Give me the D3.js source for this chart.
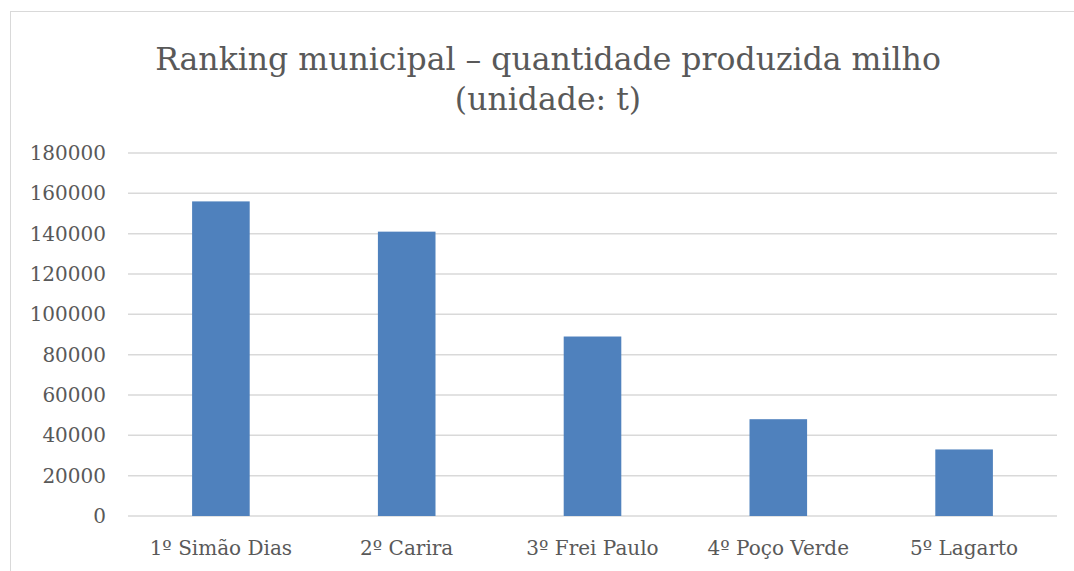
<!DOCTYPE html>
<html>
<head>
<meta charset="utf-8">
<script src="https://cdn.jsdelivr.net/npm/d3@7"></script>
<style>
  body { margin: 0; background: #fff; }
  text { font-family: "DejaVu Serif", "Liberation Serif", serif; fill: #595959; }
</style>
</head>
<body>
<div id="chart"></div>
<script>
// data
const categories = ["1º Simão Dias", "2º Carira", "3º Frei Paulo", "4º Poço Verde", "5º Lagarto"];
const values = [156000, 141000, 89000, 48000, 33000];
const yTicks = [0, 20000, 40000, 60000, 80000, 100000, 120000, 140000, 160000, 180000];
const titleLines = ["Ranking municipal – quantidade produzida milho", "(unidade: t)"];

const width = 1074, height = 571;
const margin = {top: 153, right: 17, bottom: 55, left: 128};

const svg = d3.select("#chart").append("svg")
    .attr("width", width)
    .attr("height", height);

// chart border
svg.append("rect")
    .attr("x", 10.5).attr("y", 11.5)
    .attr("width", width).attr("height", height)
    .attr("fill", "none")
    .attr("stroke", "#d9d9d9")
    .attr("stroke-width", 1);

const x = d3.scaleBand()
    .domain(categories)
    .range([margin.left, width - margin.right])
    .paddingInner(0.69)
    .paddingOuter(0.345);

const y = d3.scaleLinear()
    .domain([0, 180000])
    .range([height - margin.bottom, margin.top]);

// gridlines
svg.append("g")
    .selectAll("line")
    .data(yTicks)
    .join("line")
    .attr("x1", margin.left)
    .attr("x2", width - margin.right)
    .attr("y1", d => y(d))
    .attr("y2", d => y(d))
    .attr("stroke", "#d9d9d9")
    .attr("stroke-width", 1.5);

// y labels
svg.append("g")
    .selectAll("text")
    .data(yTicks)
    .join("text")
    .attr("x", 106)
    .attr("y", d => y(d))
    .attr("dy", "0.35em")
    .attr("text-anchor", "end")
    .attr("font-size", 20)
    .text(d => d);

// bars
svg.append("g")
    .selectAll("rect")
    .data(values)
    .join("rect")
    .attr("x", (d, i) => x(categories[i]))
    .attr("y", d => y(d))
    .attr("width", x.bandwidth())
    .attr("height", d => y(0) - y(d))
    .attr("fill", "#4f81bd");

// x labels
svg.append("g")
    .selectAll("text")
    .data(categories)
    .join("text")
    .attr("x", d => x(d) + x.bandwidth() / 2)
    .attr("y", 555)
    .attr("text-anchor", "middle")
    .attr("font-size", 20)
    .text(d => d);

// title
svg.append("g")
    .selectAll("text")
    .data(titleLines)
    .join("text")
    .attr("x", 548)
    .attr("y", (d, i) => 70 + i * 40)
    .attr("text-anchor", "middle")
    .attr("font-size", 31.5)
    .text(d => d);
</script>
</body>
</html>
